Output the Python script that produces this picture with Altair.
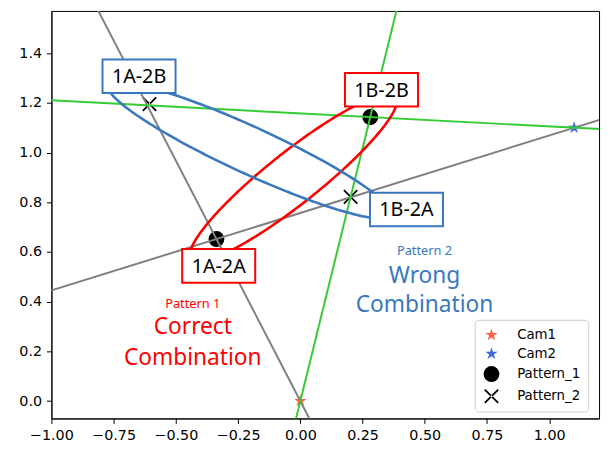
import altair as alt
import numpy as np
import pandas as pd

# ---------------- data ----------------
x_domain = [-1.0, 1.2]
y_domain = [-0.07, 1.57]
x_ticks = [-1.0, -0.75, -0.5, -0.25, 0.0, 0.25, 0.5, 0.75, 1.0]
y_ticks = [0.0, 0.2, 0.4, 0.6, 0.8, 1.0, 1.2, 1.4]

# cameras
cam_names = ["Cam1", "Cam2"]
cam_x = [0.0, 1.1]
cam_y = [0.0, 1.1]

# pattern points
p1_x = [-0.337, 0.281]
p1_y = [0.652, 1.143]
p2_x = [-0.606, 0.202]
p2_y = [1.195, 0.822]

# rays from cameras through the Pattern_1 points
ray_cam = [0, 1, 0, 1]
ray_target = [0, 0, 1, 1]
ray_color = ["#808080", "#808080", "#33cc33", "#33cc33"]

RED = "#ff0000"
BLUE = "#3a78bd"

# ellipses (centre, semi-axes, angle in degrees)
ell_names = ["correct", "wrong"]
ell_cx = [-0.028, -0.202]
ell_cy = [0.898, 1.009]
ell_a = [0.526, 0.626]
ell_b = [0.104, 0.094]
ell_angle = [38.5, -24.7]
ell_color = [RED, BLUE]

# boxed labels
label_text = ["1A-2B", "1B-2B", "1A-2A", "1B-2A"]
label_x = [-0.648, 0.326, -0.328, 0.4265]
label_y = [1.307, 1.253, 0.544, 0.771]
label_color = [BLUE, RED, RED, BLUE]

# free annotations (baseline positions)
small_text = ["Pattern 1", "Pattern 2"]
small_x = [-0.432, 0.499]
small_y = [0.376, 0.586]
small_color = [RED, BLUE]

big_text = ["Correct", "Combination", "Wrong", "Combination"]
big_x = [-0.432, -0.432, 0.499, 0.499]
big_y = [0.271, 0.146, 0.477, 0.360]
big_color = [RED, RED, BLUE, BLUE]

# legend series
series_domain = ["Cam1", "Cam2", "Pattern_1", "Pattern_2"]
series_colors = ["#ff6347", "#4169e1", "#000000", "#000000"]
STAR = ("M0,-1L0.225,-0.309L0.951,-0.309L0.363,0.118L0.588,0.809L0,0.382"
        "L-0.588,0.809L-0.363,0.118L-0.951,-0.309L-0.225,-0.309Z")
XSHAPE = "M-1,-0.83L-0.83,-1L1,0.83L0.83,1Z M-1,0.83L-0.83,1L1,-0.83L0.83,-1Z"
series_shapes = [STAR, STAR, "circle", XSHAPE]
series_sizes = [175, 175, 260, 220]

BOX = "M-1,-0.46L1,-0.46L1,0.46L-1,0.46Z"

# ---------------- tables ----------------
pts = pd.DataFrame({
    "x": cam_x + p1_x + p2_x,
    "y": cam_y + p1_y + p2_y,
    "series": cam_names + ["Pattern_1"] * len(p1_x) + ["Pattern_2"] * len(p2_x),
})

ray_rows = []
for i, (c, t, col) in enumerate(zip(ray_cam, ray_target, ray_color)):
    cx, cy = cam_x[c], cam_y[c]
    tx, ty = p1_x[t], p1_y[t]
    for k, s in enumerate([-10.0, 10.0]):
        ray_rows.append({"x": cx + s * (tx - cx), "y": cy + s * (ty - cy),
                         "ray": f"r{i}", "o": k, "lc": col})
rays = pd.DataFrame(ray_rows)

ell_rows = []
theta = np.linspace(0, 2 * np.pi, 241)
for name, cx, cy, a, b, ang, col in zip(ell_names, ell_cx, ell_cy, ell_a, ell_b, ell_angle, ell_color):
    r = np.deg2rad(ang)
    ex = cx + a * np.cos(theta) * np.cos(r) - b * np.sin(theta) * np.sin(r)
    ey = cy + a * np.cos(theta) * np.sin(r) + b * np.sin(theta) * np.cos(r)
    for k in range(len(theta)):
        ell_rows.append({"x": ex[k], "y": ey[k], "ell": name, "o": k, "lc": col})
ells = pd.DataFrame(ell_rows)

labels = pd.DataFrame({"x": label_x, "y": label_y, "text": label_text, "lc": label_color})
smalls = pd.DataFrame({"x": small_x, "y": small_y, "text": small_text, "lc": small_color})
bigs = pd.DataFrame({"x": big_x, "y": big_y, "text": big_text, "lc": big_color})

# ---------------- encodings ----------------
X = alt.X("x:Q", scale=alt.Scale(domain=x_domain, nice=False, zero=False),
          axis=alt.Axis(values=x_ticks, format=".2f", title=None,
                        labelFlush=False, labelOverlap=False))
Y = alt.Y("y:Q", scale=alt.Scale(domain=y_domain, nice=False, zero=False),
          axis=alt.Axis(values=y_ticks, format=".1f", title=None,
                        labelFlush=False, labelOverlap=False))

legend = alt.Legend(title=None, orient="none", legendX=429, legendY=313,
                    padding=8, labelFont="DejaVu Sans", labelFontSize=13.5,
                    labelColor="#000000", strokeColor="#cccccc", cornerRadius=4,
                    fillColor="white", rowPadding=5, labelOffset=17)

points = alt.Chart(pts).mark_point(filled=True, opacity=1, strokeWidth=0).encode(
    x=X, y=Y,
    color=alt.Color("series:N", scale=alt.Scale(domain=series_domain, range=series_colors), legend=legend),
    shape=alt.Shape("series:N", scale=alt.Scale(domain=series_domain, range=series_shapes), legend=legend),
    size=alt.Size("series:N", scale=alt.Scale(type="ordinal", domain=series_domain, range=series_sizes),
                  legend=legend),
)

ray_layer = alt.Chart(rays).mark_line(clip=True, strokeWidth=2).encode(
    x=X, y=Y, detail="ray:N", order="o:Q",
    stroke=alt.Stroke("lc:N", scale=None),
)

ell_layer = alt.Chart(ells).mark_line(clip=True, strokeWidth=2.6).encode(
    x=X, y=Y, detail="ell:N", order="o:Q",
    stroke=alt.Stroke("lc:N", scale=None),
)

boxes = alt.Chart(labels).mark_point(shape=BOX, size=74 * 74, filled=False,
                                     fill="white", fillOpacity=1, opacity=1,
                                     strokeWidth=2).encode(
    x=X, y=Y, stroke=alt.Stroke("lc:N", scale=None),
)

box_text = alt.Chart(labels).mark_text(font="Noto Sans", fontSize=20, color="black",
                                       baseline="alphabetic", align="center", dy=7).encode(
    x=X, y=Y, text="text:N",
)

small_layer = alt.Chart(smalls).mark_text(font="Noto Sans", fontSize=13,
                                          baseline="alphabetic", align="center").encode(
    x=X, y=Y, text="text:N", fill=alt.Fill("lc:N", scale=None),
)

big_layer = alt.Chart(bigs).mark_text(font="Noto Sans", fontSize=23,
                                      baseline="alphabetic", align="center").encode(
    x=X, y=Y, text="text:N", fill=alt.Fill("lc:N", scale=None),
)

chart = alt.layer(points, ray_layer, ell_layer, boxes, box_text, small_layer, big_layer).properties(
    width=555, height=413,
    autosize=alt.AutoSizeParams(type="none"),
    padding={"left": 44, "top": 0, "right": 3, "bottom": 30},
).configure_view(
    stroke="#000000", strokeWidth=1
).configure_axis(
    labelFont="DejaVu Sans", labelFontSize=14.5, labelColor="#000000",
    tickColor="#000000", domainColor="#000000", tickSize=5, labelPadding=5,
    grid=False,
)

chart.save("out.html", embed_options={"renderer": "svg", "actions": False})
